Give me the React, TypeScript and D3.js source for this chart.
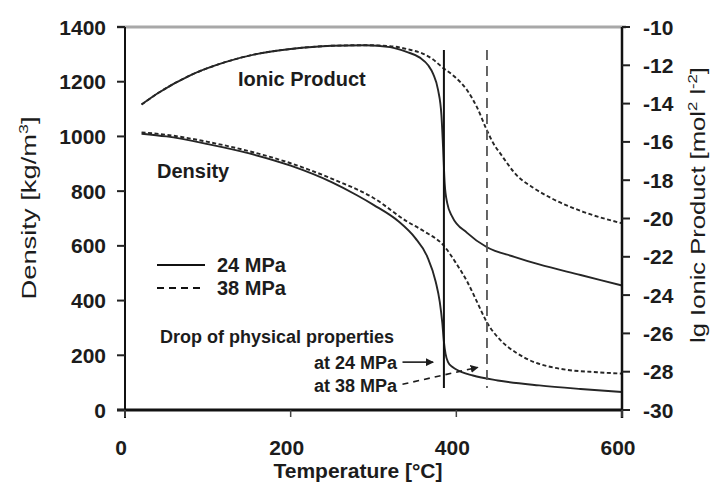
import React from "react";
import * as d3 from "d3";

// ---- data ----
const TEMP_TICKS = [0, 200, 400, 600];
const DENSITY_TICKS = [0, 200, 400, 600, 800, 1000, 1200, 1400];
const IONIC_TICKS = [-30, -28, -26, -24, -22, -20, -18, -16, -14, -12, -10];

const densityTemp24 = [20, 50, 100, 150, 200, 250, 280, 300, 330, 350, 365, 375, 380, 383, 385, 387, 390, 395, 400, 420, 450, 500, 550, 600];
const density24 = [1010, 1000, 972, 938, 893, 832, 785, 750, 690, 630, 560, 470, 395, 320, 250, 205, 175, 158, 148, 126, 108, 90, 77, 66];

const densityTemp38 = [20, 50, 100, 150, 200, 250, 300, 340, 360, 385, 400, 413, 425, 437, 453, 473, 493, 513, 533, 570, 600];
const density38 = [1015, 1006, 980, 946, 902, 845, 775, 690, 655, 600, 535, 470, 395, 320, 256, 208, 176, 158, 147, 138, 133];

const ionicTemp24 = [20, 40, 80, 120, 160, 200, 250, 290, 320, 340, 356, 366, 372, 378, 382, 384, 386, 389, 395, 413, 437, 470, 500, 550, 600];
const ionic24 = [-14.05, -13.45, -12.5, -11.85, -11.4, -11.15, -10.98, -10.95, -11.05, -11.3, -11.6, -12.0, -12.45, -13.3, -14.6, -16.3, -18.2, -19.2, -19.9, -20.75, -21.5, -22.0, -22.4, -22.95, -23.5];

const ionicTemp38 = [20, 40, 80, 120, 160, 200, 250, 290, 320, 345, 360, 372, 383, 398, 413, 425, 437, 445, 453, 473, 493, 513, 553, 600];
const ionic38 = [-14.05, -13.45, -12.5, -11.85, -11.4, -11.15, -10.98, -10.95, -11.0, -11.2, -11.4, -11.7, -12.1, -12.6, -13.3, -14.2, -15.4, -16.1, -16.6, -17.75, -18.4, -18.9, -19.65, -20.25];

// drop markers (temperature) and their vertical extent
const dropTemps = [385, 437];
const dropTopIonic = -11.2;
const dropBottomDensity = 80;

// arrows [temp, density] start -> end
const arrow24 = [[335, 175], [372, 175]];
const arrow38 = [[335, 94], [426, 156]];

const FONT = "'Liberation Sans', Arial, Helvetica, sans-serif";
const INK = "#1c1c1c";

export default function App() {
  const W = 719, H = 485;
  const x = d3.scaleLinear().domain([0, 600]).range([125, 622]);
  const yL = d3.scaleLinear().domain([0, 1400]).range([410, 27]);
  const yR = d3.scaleLinear().domain([-30, -10]).range([410, 27]);

  const lineL = d3.line<[number, number]>().x(d => x(d[0])).y(d => yL(d[1])).curve(d3.curveMonotoneX);
  const lineR = d3.line<[number, number]>().x(d => x(d[0])).y(d => yR(d[1])).curve(d3.curveMonotoneX);

  const zip = (a: number[], b: number[]) => a.map((t, i) => [t, b[i]] as [number, number]);

  const x0 = x(0), x1 = x(600), yTop = yL(1400), yBot = yL(0);

  return (
    <svg width={W} height={H} style={{ position: "absolute", left: 0, top: 0, background: "#fff" }} fontFamily={FONT}>
      <defs>
        <marker id="ah" viewBox="0 0 10 10" refX="9" refY="5" markerWidth="5" markerHeight="5" orient="auto">
          <path d="M0,0 L10,5 L0,10 z" fill={INK} />
        </marker>
        <marker id="ah2" viewBox="0 0 10 10" refX="9" refY="5" markerWidth="5" markerHeight="5" orient="auto">
          <path d="M0,0 L10,5 L0,10 z" fill={INK} />
        </marker>
      </defs>

      {/* top frame line */}
      <line x1={x0 - 8} x2={x1 + 4} y1={yTop} y2={yTop} stroke="#a8a8a8" strokeWidth={3} />

      {/* curves */}
      <path d={lineL(zip(densityTemp24, density24)) || ""} fill="none" stroke="#262626" strokeWidth={1.9} />
      <path d={lineL(zip(densityTemp38, density38)) || ""} fill="none" stroke="#262626" strokeWidth={1.9} strokeDasharray="4,2.5" />
      <path d={lineR(zip(ionicTemp24, ionic24)) || ""} fill="none" stroke="#262626" strokeWidth={1.9} />
      <path d={lineR(zip(ionicTemp38, ionic38)) || ""} fill="none" stroke="#262626" strokeWidth={1.9} strokeDasharray="4,2.5" />

      {/* drop markers */}
      {dropTemps.map((t, i) => (
        <line key={t} x1={x(t)} x2={x(t)} y1={yR(dropTopIonic)} y2={yL(dropBottomDensity)}
          stroke={i === 0 ? "#111" : "#555"} strokeWidth={i === 0 ? 2 : 1.8}
          strokeDasharray={i === 0 ? undefined : "10,6"} />
      ))}

      {/* arrows */}
      <line x1={x(arrow24[0][0])} y1={yL(arrow24[0][1])} x2={x(arrow24[1][0])} y2={yL(arrow24[1][1])}
        stroke={INK} strokeWidth={1.6} markerEnd="url(#ah)" />
      <line x1={x(arrow38[0][0])} y1={yL(arrow38[0][1])} x2={x(arrow38[1][0])} y2={yL(arrow38[1][1])}
        stroke={INK} strokeWidth={1.6} strokeDasharray="6,5" markerEnd="url(#ah2)" />

      {/* axes */}
      <line x1={x0} x2={x0} y1={yTop} y2={yBot + 8} stroke="#111" strokeWidth={2} />
      <line x1={x1} x2={x1} y1={yTop} y2={yBot + 8} stroke="#111" strokeWidth={2.5} />
      <line x1={x0 - 8} x2={x1} y1={yBot} y2={yBot} stroke="#111" strokeWidth={3} />

      {/* left ticks */}
      {DENSITY_TICKS.map(v => (
        <g key={"l" + v}>
          <line x1={x0 - 8} x2={x0} y1={yL(v)} y2={yL(v)} stroke="#222" strokeWidth={2} />
          <text x={106} y={yL(v)} dy="0.36em" textAnchor="end" fontSize={21} fontWeight="bold" fill={INK}>{v}</text>
        </g>
      ))}
      {/* right ticks */}
      {IONIC_TICKS.map(v => (
        <g key={"r" + v}>
          <line x1={x1} x2={x1 + 8} y1={yR(v)} y2={yR(v)} stroke="#222" strokeWidth={2} />
          <text x={643} y={yR(v)} dy="0.36em" textAnchor="start" fontSize={21} fontWeight="bold" fill={INK}>{v}</text>
        </g>
      ))}
      {/* bottom ticks */}
      {TEMP_TICKS.map(v => (
        <g key={"b" + v}>
          <line x1={x(v)} x2={x(v)} y1={yBot} y2={yBot + 7} stroke="#444" strokeWidth={1.5} />
          <text x={x(v) - 4} y={455} textAnchor="middle" fontSize={21} fontWeight="bold" fill={INK}>{v}</text>
        </g>
      ))}

      {/* axis titles */}
      <text x={358} y={478} textAnchor="middle" fontSize={21} fontWeight="bold" fill={INK}>Temperature [°C]</text>
      <text transform="translate(36,208) rotate(-90)" textAnchor="middle" fontSize={20} fill={INK}
        textLength={183} lengthAdjust="spacingAndGlyphs">
        Density [kg/m<tspan fontSize={13} dy={-8}>3</tspan><tspan dy={8}>]</tspan>
      </text>
      <text transform="translate(705,205) rotate(-90)" textAnchor="middle" fontSize={20} fill={INK}
        textLength={276} lengthAdjust="spacingAndGlyphs">
        lg Ionic Product [mol<tspan fontSize={13} dy={-8}>2</tspan><tspan dy={8}> l</tspan><tspan fontSize={13} dy={-8}>-2</tspan><tspan dy={8}>]</tspan>
      </text>

      {/* annotations */}
      <text x={238} y={86} fontSize={20} fontWeight="bold" fill={INK}>Ionic Product</text>
      <text x={157} y={178} fontSize={20} fontWeight="bold" fill={INK}>Density</text>

      {/* legend */}
      <line x1={157} x2={205} y1={265} y2={265} stroke="#111" strokeWidth={2} />
      <text x={217} y={272} fontSize={20} fontWeight="bold" fill={INK}>24 MPa</text>
      <line x1={157} x2={204} y1={288} y2={288} stroke="#111" strokeWidth={2} strokeDasharray="7,5" />
      <text x={217} y={295} fontSize={20} fontWeight="bold" fill={INK}>38 MPa</text>

      <text x={160} y={343} fontSize={18} fontWeight="bold" fill={INK}>Drop of physical properties</text>
      <text x={397} y={369} textAnchor="end" fontSize={18} fontWeight="bold" fill={INK}>at 24 MPa</text>
      <text x={397} y={392} textAnchor="end" fontSize={18} fontWeight="bold" fill={INK}>at 38 MPa</text>
    </svg>
  );
}
